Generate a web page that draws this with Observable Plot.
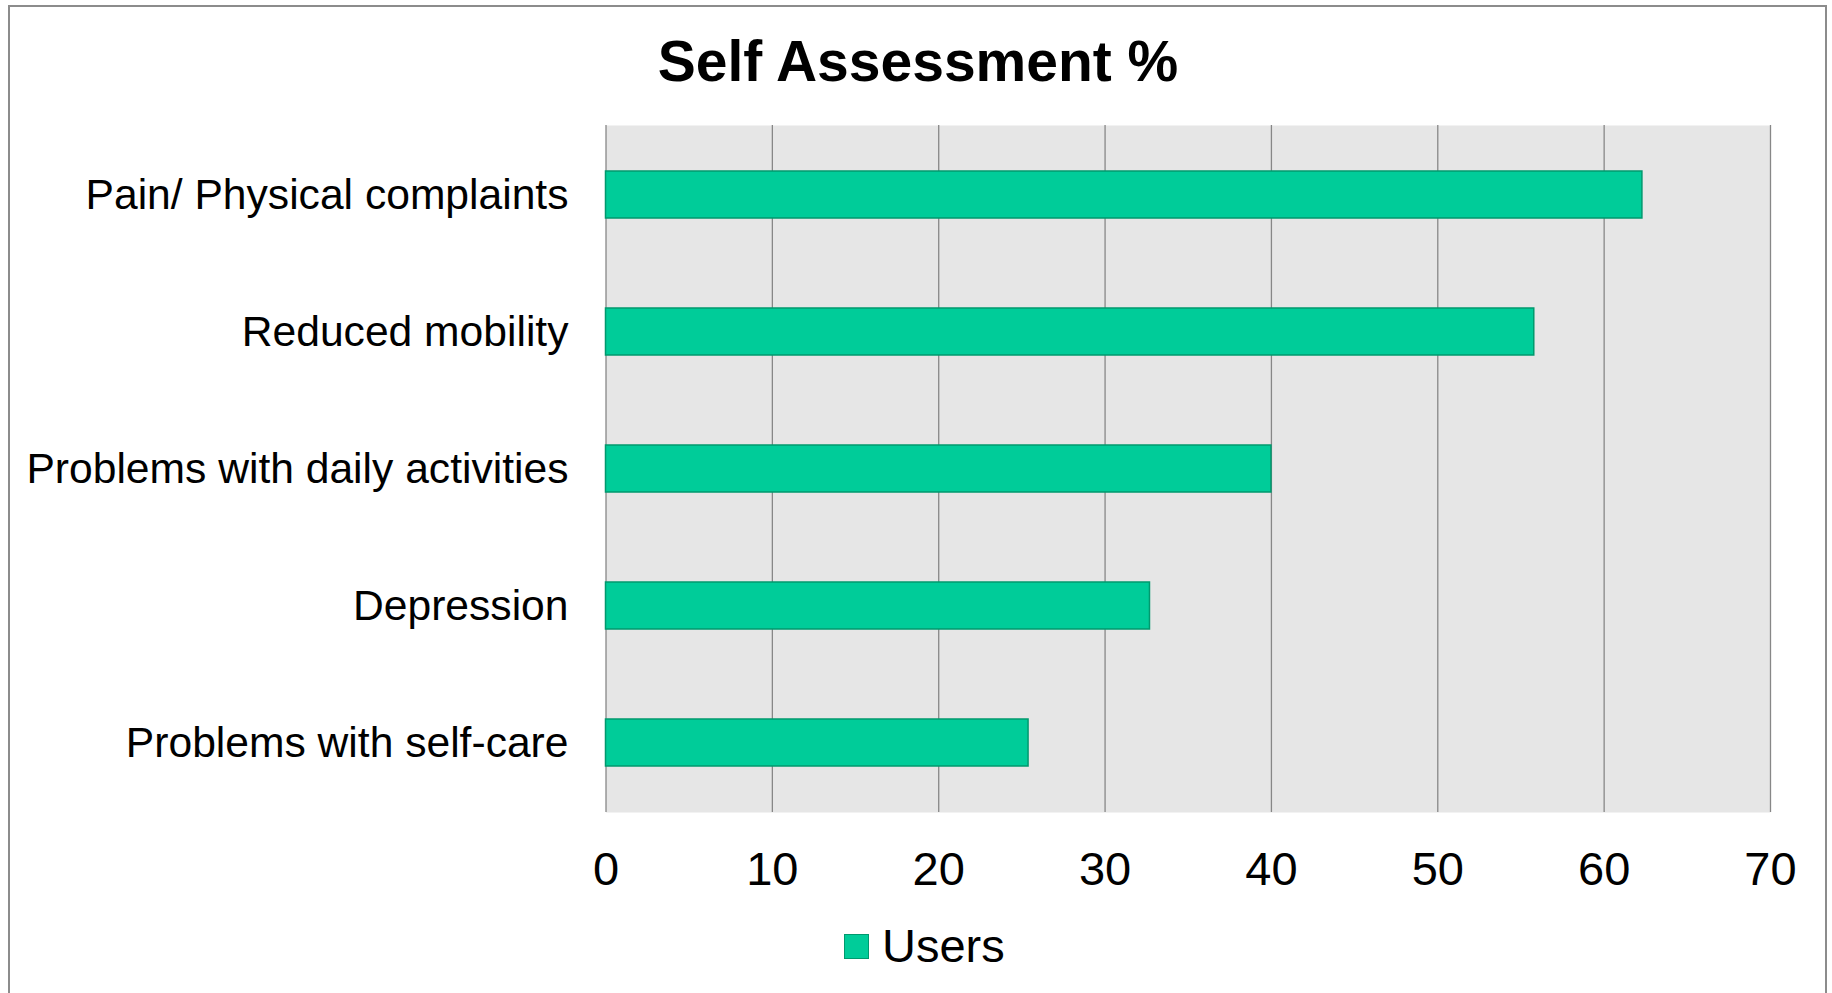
<!DOCTYPE html>
<html>
<head>
<meta charset="utf-8">
<script src="https://cdn.jsdelivr.net/npm/d3@7"></script>
<script src="https://cdn.jsdelivr.net/npm/@observablehq/plot@0.6"></script>
<style>
  html, body { margin: 0; padding: 0; background: #fff; width: 1832px; height: 993px; overflow: hidden; }
  body { position: relative; font-family: "Liberation Sans", Arial, sans-serif; color: #000; }
  #border { position: absolute; left: 8px; top: 5px; width: 1819px; height: 1100px; border: 2px solid #8c8c8c; box-sizing: border-box; }
  #title { position: absolute; left: 0; width: 1836px; top: 33px; text-align: center; font-size: 57px; font-weight: bold; line-height: 57px; white-space: nowrap; }
  #chart { position: absolute; left: 0; top: 100px; }
  #legend { position: absolute; left: 844px; top: 922px; height: 48px; display: flex; align-items: center; }
  #legend .sw { width: 25px; height: 25px; background: #00cc99; border: 1.5px solid #00996e; box-sizing: border-box; margin-right: 13px; }
  #legend .lb { font-size: 47px; line-height: 48px; }
</style>
</head>
<body>
<div id="border"></div>
<div id="title">Self Assessment %</div>
<div id="chart"></div>
<div id="legend"><div class="sw"></div><div class="lb">Users</div></div>
<script>
const categories = [
  "Pain/ Physical complaints",
  "Reduced mobility",
  "Problems with daily activities",
  "Depression",
  "Problems with self-care"
];
const users = [62.3, 55.8, 40, 32.7, 25.4];
const xTicks = [0, 10, 20, 30, 40, 50, 60, 70];

const data = categories.map((c, i) => ({category: c, value: users[i]}));

const chart = Plot.plot({
  width: 1832,
  height: 800,
  marginTop: 25,
  marginBottom: 88,
  marginLeft: 605.5,
  marginRight: 62,
  style: {fontFamily: "'Liberation Sans', Arial, sans-serif", color: "#000", background: "transparent"},
  x: {domain: [0, 70], label: null},
  y: {domain: categories, paddingInner: 0.654, paddingOuter: 0.327, label: null},
  marks: [
    Plot.frame({fill: "#e6e6e6", stroke: null}),
    Plot.ruleX(xTicks, {stroke: "#878787", strokeWidth: 1.3}),
    Plot.barX(data, {x: "value", y: "category", fill: "#00cc99", stroke: "#00996e", strokeWidth: 1.5}),
    Plot.axisX({ticks: xTicks, tickSize: 0, tickPadding: 39.5, fontSize: 47, label: null, fill: "#000"}),
    Plot.axisY({tickSize: 0, tickPadding: 37.5, fontSize: 42.6, label: null, fill: "#000"})
  ]
});
document.getElementById("chart").appendChild(chart);
</script>
</body>
</html>
